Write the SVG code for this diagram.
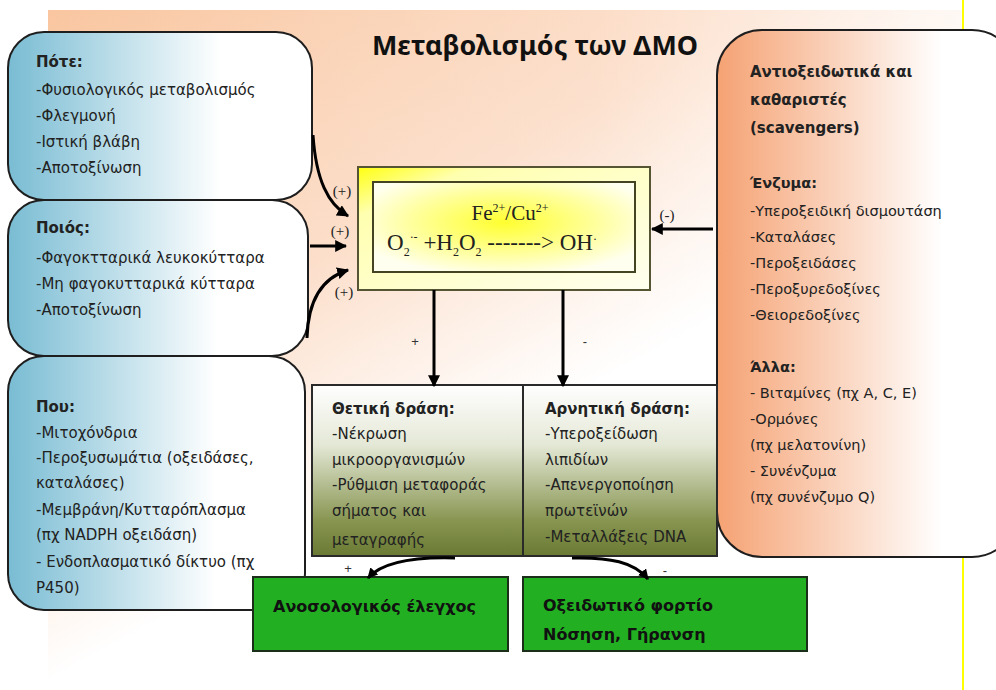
<svg xmlns="http://www.w3.org/2000/svg" width="996" height="690" viewBox="0 0 996 690">
<defs>
<linearGradient id="bg" gradientUnits="userSpaceOnUse" x1="48" y1="10" x2="380" y2="620">
<stop offset="0" stop-color="#f9c6a0"/>
<stop offset="0.5" stop-color="#fcdcc6"/>
<stop offset="0.85" stop-color="#ffffff"/>
<stop offset="1" stop-color="#ffffff"/>
</linearGradient>
<linearGradient id="bgh" gradientUnits="userSpaceOnUse" x1="48" y1="0" x2="962" y2="0">
<stop offset="0" stop-color="#ffffff" stop-opacity="0"/>
<stop offset="0.6" stop-color="#ffffff" stop-opacity="0.15"/>
<stop offset="1" stop-color="#ffffff" stop-opacity="0.7"/>
</linearGradient>
<linearGradient id="blue" x1="0" y1="0" x2="1" y2="0">
<stop offset="0" stop-color="#79bcd3"/>
<stop offset="0.7" stop-color="#ffffff"/>
<stop offset="1" stop-color="#ffffff"/>
</linearGradient>
<linearGradient id="orange" x1="0" y1="0" x2="1" y2="0">
<stop offset="0" stop-color="#f5a273"/>
<stop offset="0.75" stop-color="#ffffff"/>
<stop offset="1" stop-color="#ffffff"/>
</linearGradient>
<linearGradient id="olive" x1="0" y1="0" x2="0" y2="1">
<stop offset="0" stop-color="#ffffff"/>
<stop offset="0.35" stop-color="#e4e8d6"/>
<stop offset="0.8" stop-color="#86944f"/>
<stop offset="1" stop-color="#6a7a33"/>
</linearGradient>
<linearGradient id="outerY" x1="0" y1="0" x2="1" y2="1">
<stop offset="0" stop-color="#ffff10"/>
<stop offset="0.2" stop-color="#ffffb0"/>
<stop offset="1" stop-color="#fffff0"/>
</linearGradient>
<radialGradient id="innerY" cx="0.5" cy="0.45" r="0.6">
<stop offset="0" stop-color="#ffff30"/>
<stop offset="0.6" stop-color="#ffffa0"/>
<stop offset="1" stop-color="#fffff0"/>
</radialGradient>
<clipPath id="clipPos"><rect x="312" y="385" width="211" height="163"/></clipPath>
<marker id="ah" viewBox="0 0 10 10" refX="9" refY="5" markerWidth="4" markerHeight="4" orient="auto" markerUnits="strokeWidth">
<path d="M0,0 L10,5 L0,10 Z" fill="#000"/>
</marker>
<marker id="ahs" viewBox="0 0 10 10" refX="9" refY="5" markerWidth="3.5" markerHeight="3.5" orient="auto" markerUnits="strokeWidth">
<path d="M0,0 L10,5 L0,10 Z" fill="#000"/>
</marker>
</defs>
<style>
.t{font-family:"DejaVu Sans","Noto Sans",sans-serif;font-size:15px;fill:#222}
.r{font-size:14.5px}
.b{font-weight:bold}
.box{stroke:#1e1e1e;stroke-width:2}
.ser{font-family:"Liberation Serif","Times New Roman",serif;fill:#222}
.lbl{font-family:"Liberation Sans",sans-serif;font-size:13px;fill:#333}
.arr{fill:none;stroke:#000;stroke-width:3}
.gt{font-family:"DejaVu Sans","Noto Sans",sans-serif;font-size:16px;font-weight:bold;fill:#111}
</style>

<rect x="0" y="0" width="996" height="690" fill="#ffffff"/>
<rect x="48" y="10" width="914" height="680" fill="url(#bg)"/>
<rect x="48" y="10" width="914" height="680" fill="url(#bgh)"/>
<line x1="963" y1="0" x2="963" y2="690" stroke="#ffff00" stroke-width="2"/>

<text x="535" y="55" text-anchor="middle" font-family="Noto Sans, Open Sans, sans-serif" font-size="27" font-weight="bold" fill="#111" textLength="326" lengthAdjust="spacingAndGlyphs">Μεταβολισμός των ΔΜΟ</text>

<g id="pote">
<rect class="box" x="8" y="32" width="304" height="168" rx="36" ry="36" fill="url(#blue)"/>
<text class="t b" x="36" y="67">Πότε:</text>
<text class="t" x="36" y="95">-Φυσιολογικός μεταβολισμός</text>
<text class="t" x="36" y="121">-Φλεγμονή</text>
<text class="t" x="36" y="147">-Ιστική βλάβη</text>
<text class="t" x="36" y="173">-Αποτοξίνωση</text>
</g>

<g id="poios">
<rect class="box" x="8" y="200" width="300" height="156" rx="36" ry="36" fill="url(#blue)"/>
<text class="t b" x="36" y="233">Ποιός:</text>
<text class="t" x="36" y="263">-Φαγοκτταρικά λευκοκύτταρα</text>
<text class="t" x="36" y="289">-Μη φαγοκυτταρικά κύτταρα</text>
<text class="t" x="36" y="315">-Αποτοξίνωση</text>
</g>

<g id="pou">
<rect class="box" x="8" y="356" width="297" height="254" rx="36" ry="36" fill="url(#blue)"/>
<text class="t b" x="36" y="412">Που:</text>
<text class="t" x="36" y="438">-Μιτοχόνδρια</text>
<text class="t" x="36" y="463">-Περοξυσωμάτια (οξειδάσες,</text>
<text class="t" x="36" y="488">καταλάσες)</text>
<text class="t" x="36" y="515">-Μεμβράνη/Κυτταρόπλασμα</text>
<text class="t" x="36" y="540">(πχ NADPH οξειδάση)</text>
<text class="t" x="36" y="567">- Ενδοπλασματικό δίκτυο (πχ</text>
<text class="t" x="36" y="593">P450)</text>
</g>

<g id="antiox">
<rect class="box" x="717" y="30" width="300" height="527" rx="45" ry="45" fill="url(#orange)"/>
<text class="t b" x="750" y="77" font-size="16">Αντιοξειδωτικά και</text>
<text class="t b" x="750" y="105" font-size="16">καθαριστές</text>
<text class="t b" x="750" y="133" font-size="16"> (scavengers)</text>
<text class="t r b" x="750" y="188">Ένζυμα:</text>
<text class="t r" x="750" y="216">-Υπεροξειδική δισμουτάση</text>
<text class="t r" x="750" y="242">-Καταλάσες</text>
<text class="t r" x="750" y="268">-Περοξειδάσες</text>
<text class="t r" x="750" y="294">-Περοξυρεδοξίνες</text>
<text class="t r" x="750" y="320">-Θειορεδοξίνες</text>
<text class="t r b" x="750" y="372">Άλλα:</text>
<text class="t r" x="750" y="398">- Βιταμίνες (πχ A, C, E)</text>
<text class="t r" x="750" y="424">-Ορμόνες</text>
<text class="t r" x="750" y="450"> (πχ μελατονίνη)</text>
<text class="t r" x="750" y="476">- Συνένζυμα</text>
<text class="t r" x="750" y="502">(πχ συνένζυμο Q)</text>
</g>

<g id="reaction">
<rect x="358" y="167" width="292" height="123" fill="url(#outerY)" stroke="#555533" stroke-width="2"/>
<rect x="373" y="182" width="262" height="90" fill="url(#innerY)" stroke="#444422" stroke-width="2"/>
<text class="ser" x="510" y="220" text-anchor="middle" font-size="21">Fe<tspan font-size="12" dy="-8">2+</tspan><tspan dy="8">/Cu</tspan><tspan font-size="12" dy="-8">2+</tspan></text>
<text class="ser" x="387" y="250" font-size="23">O<tspan font-size="12" dy="6">2</tspan><tspan font-size="12" dy="-15">·-</tspan><tspan dy="9"> +H</tspan><tspan font-size="12" dy="6">2</tspan><tspan dy="-6">O</tspan><tspan font-size="12" dy="6">2</tspan><tspan dy="-6"> -------&gt; OH</tspan><tspan font-size="12" dy="-7">·</tspan></text>
</g>

<g id="positive">
<rect x="312" y="385" width="211" height="171" fill="url(#olive)" stroke="#2a2a2a" stroke-width="2"/>
<g clip-path="url(#clipPos)">
<text class="t b" x="332" y="414">Θετική δράση:</text>
<text class="t" x="332" y="439">-Νέκρωση</text>
<text class="t" x="332" y="465">μικροοργανισμών</text>
<text class="t" x="332" y="490">-Ρύθμιση μεταφοράς</text>
<text class="t" x="332" y="516">σήματος και</text>
<text class="t" x="332" y="545">μεταγραφής</text>
</g>
</g>

<g id="negative">
<rect x="523" y="385" width="194" height="171" fill="url(#olive)" stroke="#2a2a2a" stroke-width="2"/>
<text class="t b" x="545" y="414">Αρνητική δράση:</text>
<text class="t" x="545" y="439">-Υπεροξείδωση</text>
<text class="t" x="545" y="465">λιπιδίων</text>
<text class="t" x="545" y="490">-Απενεργοποίηση</text>
<text class="t" x="545" y="516">πρωτεϊνών</text>
<text class="t" x="545" y="542">-Μεταλλάξεις DNA</text>
</g>

<g id="immune">
<rect x="253" y="577" width="255" height="74" fill="#22b022" stroke="#1a2e1a" stroke-width="2"/>
<text class="gt" x="273" y="612">Ανοσολογικός έλεγχος</text>
</g>

<g id="oxidative">
<rect x="523" y="577" width="284" height="74" fill="#22b022" stroke="#1a2e1a" stroke-width="2"/>
<text class="gt" x="543" y="611">Οξειδωτικό φορτίο</text>
<text class="gt" x="543" y="640">Νόσηση, Γήρανση</text>
</g>

<g id="connectors">
<path class="arr" d="M313,135 C316,180 328,204 348,216" marker-end="url(#ah)"/>
<path class="arr" d="M310,246 L346,246" marker-end="url(#ah)"/>
<path class="arr" d="M307,338 C308,300 322,278 348,270" marker-end="url(#ah)"/>
<path class="arr" d="M713,229 L652,229" marker-end="url(#ah)"/>
<path class="arr" d="M434,290 L434,386" marker-end="url(#ah)"/>
<path class="arr" d="M563,290 L563,386" marker-end="url(#ah)"/>
<path class="arr" d="M455,558 C420,557 384,560 368,578" marker-end="url(#ahs)"/>
<path class="arr" d="M572,558 C610,557 634,562 648,579" marker-end="url(#ahs)"/>
<text class="ser" x="342" y="196" font-size="15" text-anchor="middle">(+)</text>
<text class="ser" x="340" y="236" font-size="15" text-anchor="middle">(+)</text>
<text class="ser" x="344" y="297" font-size="15" text-anchor="middle">(+)</text>
<text class="ser" x="667" y="220" font-size="15" text-anchor="middle">(-)</text>
<text class="lbl" x="415" y="346" text-anchor="middle">+</text>
<text class="lbl" x="585" y="346" text-anchor="middle">-</text>
<text class="lbl" x="348" y="573" text-anchor="middle">+</text>
<text class="lbl" x="665" y="575" text-anchor="middle">-</text>
</g>
</svg>
